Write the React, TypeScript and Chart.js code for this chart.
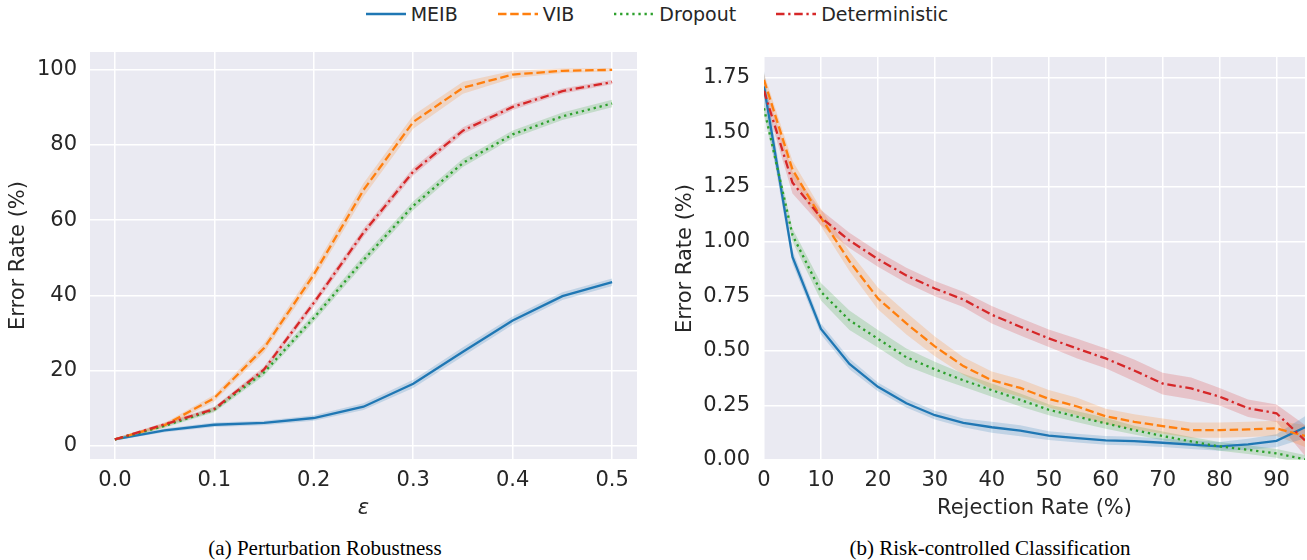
import React, { useEffect, useRef } from 'react';
import { Chart, registerables } from 'chart.js';

Chart.register(...registerables);

const FONT = 'DejaVu Sans';
const TEXT = '#262626';

// ---- series meta ----
const SERIES_NAMES = ['MEIB', 'VIB', 'Dropout', 'Deterministic'];
const SERIES_COLORS = ['#1f77b4', '#ff7f0e', '#2ca02c', '#d62728'];
const BAND_COLORS = ['rgba(31,119,180,0.2)', 'rgba(255,127,14,0.2)', 'rgba(44,160,44,0.2)', 'rgba(214,39,40,0.2)'];
const SERIES_DASH: number[][] = [[], [8.5, 3.7], [2.3, 3.8], [8.5, 3.7, 2.3, 3.7]];

// ---- (a) Perturbation Robustness ----
const epsilon = [0, 0.05, 0.1, 0.15, 0.2, 0.25, 0.3, 0.35, 0.4, 0.45, 0.5];
const robMEIB = [1.7, 4.1, 5.6, 6.1, 7.4, 10.4, 16.5, 25.0, 33.3, 39.8, 43.5];
const robVIB = [1.7, 5.5, 12.7, 26.0, 45.5, 68.0, 86.1, 95.2, 98.7, 99.7, 99.95];
const robDropout = [1.7, 5.3, 9.6, 19.5, 34.0, 49.4, 63.8, 75.2, 82.8, 87.6, 91.0];
const robDet = [1.7, 5.7, 9.8, 20.3, 38.0, 56.7, 72.9, 83.8, 90.1, 94.3, 96.7];
const robBandMEIB = [0.3, 0.5, 0.6, 0.6, 0.7, 0.9, 1.1, 1.2, 1.1, 1.0, 1.0];
const robBandVIB = [0.3, 0.6, 0.9, 1.2, 1.5, 1.8, 1.8, 1.6, 1.0, 0.6, 0.4];
const robBandDropout = [0.3, 0.5, 0.7, 0.9, 1.1, 1.2, 1.2, 1.1, 1.0, 1.0, 1.0];
const robBandDet = [0.3, 0.5, 0.6, 0.8, 1.0, 1.1, 1.0, 0.9, 0.8, 0.7, 0.6];

// ---- (b) Risk-controlled Classification ----
const rejection = [0, 5, 10, 15, 20, 25, 30, 35, 40, 45, 50, 55, 60, 65, 70, 75, 80, 85, 90, 95];
const rcMEIB = [1.71, 0.93, 0.6, 0.44, 0.335, 0.26, 0.205, 0.17, 0.15, 0.134, 0.112, 0.1, 0.09, 0.086, 0.079, 0.07, 0.062, 0.072, 0.088, 0.15];
const rcVIB = [1.74, 1.33, 1.11, 0.91, 0.74, 0.625, 0.52, 0.43, 0.365, 0.33, 0.28, 0.245, 0.2, 0.175, 0.155, 0.137, 0.137, 0.14, 0.145, 0.11];
const rcDropout = [1.61, 1.03, 0.77, 0.64, 0.555, 0.47, 0.415, 0.365, 0.32, 0.275, 0.23, 0.198, 0.168, 0.137, 0.11, 0.085, 0.062, 0.047, 0.03, 0.003];
const rcDet = [1.69, 1.27, 1.11, 1.005, 0.92, 0.845, 0.785, 0.735, 0.665, 0.61, 0.557, 0.51, 0.465, 0.41, 0.35, 0.328, 0.29, 0.237, 0.214, 0.09];
const rcBandMEIB = [0.07, 0.03, 0.025, 0.025, 0.02, 0.02, 0.02, 0.02, 0.025, 0.025, 0.02, 0.02, 0.02, 0.02, 0.02, 0.02, 0.02, 0.025, 0.03, 0.05];
const rcBandVIB = [0.03, 0.04, 0.04, 0.045, 0.05, 0.05, 0.045, 0.04, 0.04, 0.04, 0.04, 0.04, 0.035, 0.035, 0.035, 0.035, 0.035, 0.035, 0.035, 0.05];
const rcBandDropout = [0.03, 0.03, 0.04, 0.045, 0.04, 0.04, 0.035, 0.03, 0.03, 0.03, 0.025, 0.025, 0.025, 0.02, 0.02, 0.02, 0.02, 0.02, 0.02, 0.02];
const rcBandDet = [0.03, 0.05, 0.035, 0.035, 0.035, 0.035, 0.035, 0.035, 0.04, 0.04, 0.04, 0.045, 0.045, 0.05, 0.05, 0.05, 0.04, 0.04, 0.04, 0.07];

const bgPlugin = {
  id: 'plotBg',
  beforeDraw(chart: any) {
    const { ctx, chartArea: a } = chart;
    ctx.save();
    ctx.fillStyle = '#EAEAF2';
    ctx.fillRect(a.left, a.top, a.right - a.left, a.bottom - a.top);
    ctx.restore();
  },
};

function buildDatasets(xs: number[], means: number[][], bands: number[][]) {
  const datasets: any[] = [];
  means.forEach((m, i) => {
    datasets.push({
      label: SERIES_NAMES[i],
      data: xs.map((x, k) => ({ x, y: m[k] })),
      borderColor: SERIES_COLORS[i],
      borderWidth: 2.3,
      borderDash: SERIES_DASH[i],
      borderCapStyle: 'butt',
      pointRadius: 0,
      fill: false,
      tension: 0,
      order: 4 - i,
    });
  });
  means.forEach((m, i) => {
    const lowerIdx = datasets.length;
    datasets.push({
      label: SERIES_NAMES[i] + ' lower',
      data: xs.map((x, k) => ({ x, y: m[k] - bands[i][k] })),
      borderColor: 'rgba(0,0,0,0)',
      borderWidth: 0,
      pointRadius: 0,
      fill: false,
      order: 10,
    });
    datasets.push({
      label: SERIES_NAMES[i] + ' upper',
      data: xs.map((x, k) => ({ x, y: m[k] + bands[i][k] })),
      borderColor: 'rgba(0,0,0,0)',
      borderWidth: 0,
      pointRadius: 0,
      backgroundColor: BAND_COLORS[i],
      fill: lowerIdx,
      order: 10,
    });
  });
  return datasets;
}

type AxisSpec = {
  min: number;
  max: number;
  step: number;
  decimals: number;
  title: string;
  italic?: boolean;
  size: number;
  tickPad: number;
  titlePad: number;
};

function buildConfig(xs: number[], means: number[][], bands: number[][], x: AxisSpec, y: AxisSpec, padTop: number, padRight: number) {
  const tickFont = { family: FONT, size: 21 };
  const grid = { color: '#ffffff', lineWidth: 1.5, drawTicks: false };
  return {
    type: 'line',
    data: { datasets: buildDatasets(xs, means, bands) },
    plugins: [bgPlugin],
    options: {
      responsive: false,
      animation: false,
      devicePixelRatio: 1,
      events: [],
      layout: { padding: { top: padTop, right: padRight, left: 0, bottom: 0 } },
      plugins: { legend: { display: false }, tooltip: { enabled: false } },
      scales: {
        x: {
          type: 'linear',
          min: x.min,
          max: x.max,
          grid,
          border: { display: false },
          ticks: {
            stepSize: x.step,
            includeBounds: false,
            autoSkip: false,
            maxRotation: 0,
            padding: x.tickPad,
            color: TEXT,
            font: tickFont,
            callback: (v: any) => Number(v).toFixed(x.decimals),
          },
          title: {
            display: true,
            text: x.title,
            color: TEXT,
            font: { family: FONT, size: 21, style: x.italic ? 'italic' : 'normal' },
            padding: { top: 0, bottom: x.titlePad },
          },
          afterFit: (s: any) => {
            s.height = x.size;
            s.paddingLeft = 0;
            s.paddingRight = 0;
          },
        },
        y: {
          type: 'linear',
          min: y.min,
          max: y.max,
          grid,
          border: { display: false },
          ticks: {
            stepSize: y.step,
            includeBounds: false,
            autoSkip: false,
            padding: y.tickPad,
            color: TEXT,
            font: tickFont,
            callback: (v: any) => Number(v).toFixed(y.decimals),
          },
          title: {
            display: true,
            text: y.title,
            color: TEXT,
            font: { family: FONT, size: 21 },
            padding: { top: y.titlePad, bottom: 0 },
          },
          afterFit: (s: any) => {
            s.width = y.size;
            s.paddingTop = 0;
            s.paddingBottom = 0;
          },
        },
      },
    },
  };
}

function ChartCanvas({ config, left, top, width, height }: any) {
  const ref = useRef<HTMLCanvasElement>(null);
  useEffect(() => {
    if (!ref.current) return;
    const chart = new Chart(ref.current, config);
    return () => chart.destroy();
  }, [config]);
  return (
    <canvas
      ref={ref}
      width={width}
      height={height}
      style={{ position: 'absolute', left, top, width, height, display: 'block' }}
    />
  );
}

const configA = buildConfig(
  epsilon,
  [robMEIB, robVIB, robDropout, robDet],
  [robBandMEIB, robBandVIB, robBandDropout, robBandDet],
  { min: -0.025, max: 0.525, step: 0.1, decimals: 1, title: 'ε', italic: true, size: 63, tickPad: 9, titlePad: 1 },
  { min: -3.5, max: 104.7, step: 20, decimals: 0, title: 'Error Rate (%)', size: 90, tickPad: 13, titlePad: 6 },
  12,
  13
);

const configB = buildConfig(
  rejection,
  [rcMEIB, rcVIB, rcDropout, rcDet],
  [rcBandMEIB, rcBandVIB, rcBandDropout, rcBandDet],
  { min: 0, max: 95, step: 10, decimals: 0, title: 'Rejection Rate (%)', size: 62, tickPad: 8, titlePad: 1 },
  { min: 0, max: 1.845, step: 0.25, decimals: 2, title: 'Error Rate (%)', size: 114, tickPad: 14, titlePad: 23 },
  17,
  2
);

function Legend() {
  return (
    <div
      style={{
        position: 'absolute',
        left: 0,
        top: 2,
        width: 1307,
        height: 24,
        paddingLeft: 7,
        boxSizing: 'border-box',
        display: 'flex',
        justifyContent: 'center',
        alignItems: 'center',
        gap: 40,
        fontFamily: FONT,
        fontSize: 19,
        color: TEXT,
      }}
    >
      {SERIES_NAMES.map((name, i) => (
        <div key={name} style={{ display: 'flex', alignItems: 'center' }}>
          <svg width={40} height={10} style={{ display: 'block' }}>
            <line
              x1={0}
              y1={5}
              x2={40}
              y2={5}
              stroke={SERIES_COLORS[i]}
              strokeWidth={2.3}
              strokeDasharray={SERIES_DASH[i].length ? SERIES_DASH[i].join(' ') : undefined}
            />
          </svg>
          <span style={{ marginLeft: 5, lineHeight: '24px', whiteSpace: 'nowrap' }}>{name}</span>
        </div>
      ))}
    </div>
  );
}

export default function App() {
  const captionStyle: React.CSSProperties = {
    position: 'absolute',
    top: 536,
    height: 24,
    lineHeight: '24px',
    fontFamily: 'Liberation Serif, serif',
    fontSize: 21,
    color: '#000',
    textAlign: 'center',
    whiteSpace: 'nowrap',
  };
  return (
    <div style={{ position: 'fixed', left: 0, top: 0, width: 1307, height: 560, background: '#fff', overflow: 'hidden' }}>
      <Legend />
      <ChartCanvas config={configA} left={0} top={40} width={650} height={482} />
      <ChartCanvas config={configB} left={650} top={40} width={657} height={482} />
      <div style={{ ...captionStyle, left: 2, width: 646 }}>(a) Perturbation Robustness</div>
      <div style={{ ...captionStyle, left: 660, width: 660 }}>(b) Risk-controlled Classification</div>
    </div>
  );
}
